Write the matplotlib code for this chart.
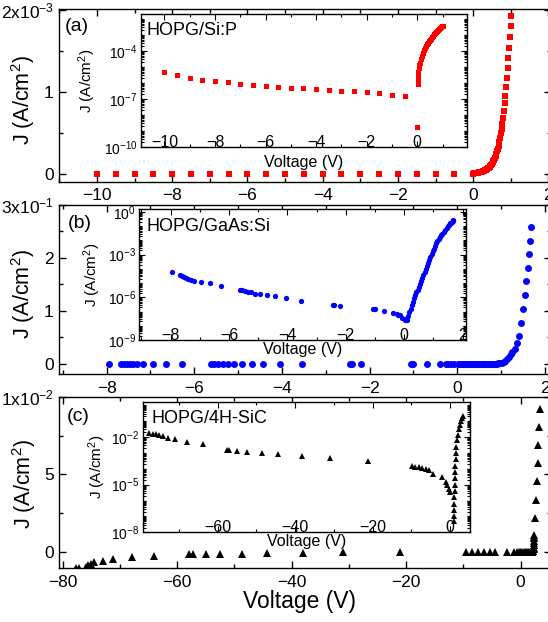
import numpy as np
import matplotlib
matplotlib.use("Agg")
import matplotlib.pyplot as plt
from matplotlib.ticker import (FixedLocator, FixedFormatter, MultipleLocator,
                               LogLocator, NullFormatter, FuncFormatter)

plt.rcParams["font.family"] = ["Liberation Sans", "DejaVu Sans"]
plt.rcParams["mathtext.default"] = "regular"

# ---------------- (a) HOPG/Si:P ----------------
va_rev = [-10.0, -9.5, -9.0, -8.5, -8.0, -7.5, -7.0, -6.5, -6.0, -5.5,
          -5.0, -4.5, -4.0, -3.5, -3.0, -2.5, -2.0, -1.5, -1.0, -0.5]
ja_rev = [4.9e-6, 3.2e-6, 2.0e-6, 1.55e-6, 1.28e-6, 1.05e-6, 8.9e-7, 7.4e-7,
          6.5e-7, 5.6e-7, 4.9e-7, 4.5e-7, 3.9e-7, 3.5e-7, 3.2e-7, 2.9e-7,
          2.5e-7, 2.2e-7, 1.8e-7, 1.4e-7]
va_fwd = [0.00, 0.02, 0.04, 0.06, 0.08, 0.10, 0.12, 0.14, 0.16, 0.18,
          0.20, 0.22, 0.24, 0.26, 0.28, 0.30, 0.32, 0.34, 0.36, 0.38,
          0.40, 0.42, 0.44, 0.46, 0.48, 0.50, 0.52, 0.54, 0.56, 0.58,
          0.60, 0.62, 0.64, 0.66, 0.68, 0.70, 0.72, 0.74, 0.76, 0.78,
          0.80, 0.82, 0.84, 0.86, 0.88, 0.90, 0.92, 0.94, 0.96, 0.98,
          1.00, 1.02]
ja_fwd = np.array([0.0003, 0.0015, 0.003, 0.0045, 0.006, 0.0075, 0.009, 0.011,
                   0.013, 0.015, 0.018, 0.021, 0.024, 0.027, 0.031, 0.035,
                   0.040, 0.045, 0.051, 0.058, 0.065, 0.073, 0.083, 0.094,
                   0.105, 0.12, 0.135, 0.15, 0.17, 0.19, 0.21, 0.24, 0.27,
                   0.30, 0.34, 0.38, 0.43, 0.49, 0.55, 0.61, 0.68, 0.77,
                   0.86, 0.955, 1.06, 1.17, 1.29, 1.41, 1.54, 1.67, 1.80,
                   1.93]) * 1e-3
# inset forward branch (log plot)
vai_fwd = [0.00, 0.01, 0.02, 0.03, 0.04, 0.06, 0.08, 0.10, 0.14, 0.18, 0.22,
           0.26, 0.30, 0.34, 0.38, 0.42, 0.46, 0.50, 0.54, 0.58, 0.62, 0.66,
           0.70, 0.74, 0.78, 0.82, 0.86, 0.90, 0.94, 0.98, 1.00]
jai_fwd = [1.6e-9, 7.9e-7, 1.26e-6, 2.5e-6, 4.5e-6, 7.9e-6, 1.26e-5, 1.8e-5,
           3.2e-5, 5.0e-5, 7.6e-5, 1.05e-4, 1.4e-4, 1.9e-4, 2.5e-4, 3.2e-4,
           4.0e-4, 4.8e-4, 5.6e-4, 7.1e-4, 8.7e-4, 1.05e-3, 1.26e-3, 1.48e-3,
           1.74e-3, 2.0e-3, 2.3e-3, 2.7e-3, 3.0e-3, 3.4e-3, 3.5e-3]

# ---------------- (b) HOPG/GaAs:Si ----------------
vb_rev = [-7.95, -7.68, -7.61, -7.54, -7.47, -7.39, -7.30, -7.18, -6.94,
          -6.65, -6.27, -5.62, -5.54, -5.45, -5.34, -5.24, -5.10, -4.92,
          -4.69, -4.43, -4.05, -3.54, -2.45, -2.40, -2.19, -1.05, -1.00,
          -0.68, -0.39, -0.26, -0.20, -0.14, -0.08]
jb_rev = [6.3e-5, 3.6e-5, 3.1e-5, 2.6e-5, 2.2e-5, 1.9e-5, 1.7e-5, 1.45e-5,
          1.23e-5, 9.5e-6, 6.2e-6, 3.2e-6, 3.1e-6, 2.75e-6, 2.45e-6, 2.2e-6,
          1.85e-6, 1.7e-6, 1.4e-6, 1.2e-6, 8.3e-7, 5.4e-7, 2.8e-7, 2.75e-7,
          2.5e-7, 1.5e-7, 1.4e-7, 1.07e-7, 8.1e-8, 6.3e-8, 5.6e-8, 5.4e-8,
          3.5e-8]
vb_fwd = [0.02, 0.06, 0.10, 0.14, 0.18, 0.22, 0.26, 0.30, 0.34, 0.38, 0.42,
          0.46, 0.50, 0.54, 0.58, 0.62, 0.66, 0.70, 0.74, 0.78, 0.82, 0.86,
          0.90, 0.94, 0.98, 1.02, 1.06, 1.10, 1.14, 1.18, 1.22, 1.26, 1.31,
          1.36, 1.41, 1.46, 1.51, 1.55, 1.58, 1.62, 1.64, 1.67, 1.69]
jb_fwd = [2.5e-8, 2.8e-8, 2.6e-8, 5e-8, 1.0e-7, 1.6e-7, 2.8e-7, 4.8e-7,
          8.3e-7, 1.4e-6, 2.3e-6, 3.2e-6, 5.5e-6, 9e-6, 1.4e-5, 2.3e-5,
          3.8e-5, 6e-5, 1e-4, 1.6e-4, 2.6e-4, 4.2e-4, 6.8e-4, 1.1e-3, 1.7e-3,
          2.7e-3, 4.3e-3, 6.5e-3, 9.5e-3, 0.0135, 0.018, 0.023, 0.028, 0.040,
          0.052, 0.078, 0.103, 0.130, 0.156, 0.182, 0.207, 0.233, 0.258]

# ---------------- (c) HOPG/4H-SiC ----------------
vc = [-77.6, -77.1, -76.0, -75.6, -75.1, -74.5, -73.0, -71.3, -67.9, -64.1,
      -58.0, -57.3, -55.0, -52.5, -48.7, -44.4, -38.1, -31.0, -21.1,
      -9.6, -8.5, -7.5, -6.4, -5.4, -4.4, -2.3, -1.2, -0.7, -0.3, -0.05,
      0.1, 0.3, 0.5, 0.7, 0.9, 1.1, 1.3, 1.5, 1.7, 1.9, 2.05, 2.15, 2.2,
      2.25, 2.28, 2.3, 2.32, 2.34, 2.36, 2.38, 2.4, 2.5, 2.73, 2.85, 2.97,
      3.07, 3.2, 3.32]
jc = np.array([-1.0, -1.0, -0.93, -0.82, -0.76, -0.65, -0.54, -0.43, -0.32,
               -0.24, -0.13, -0.13, -0.11, -0.09, -0.08, -0.06, -0.02, -0.01,
               0.0, 0, 0, 0, 0, 0, 0, 0, 0, 0, 0, 0,
               0, 0, 0, 0, 0, 0, 0, 0, 0.01, 0.02, 0.03, 0.06, 0.1, 0.18,
               0.3, 0.45, 0.6, 0.75, 0.9, 1.0, 1.12, 2.2, 3.38, 4.57, 5.71,
               6.88, 8.06, 9.2]) * 1e-3
vci = [-77.6, -76.7, -75.8, -75.0, -74.1, -72.9, -70.9, -67.8, -63.8, -57.6,
       -57.1, -54.9, -52.3, -48.6, -44.4, -38.1, -31.0, -21.1, -9.9, -9.0,
       -8.1, -7.2, -6.3, -5.4, -4.4, -2.2, -1.2, -0.75, -0.3, -0.05,
       0.9, 0.95, 1.0, 1.05, 1.1, 1.15, 1.2, 1.25, 1.3, 1.35, 1.4, 1.45,
       1.55, 1.7, 1.9, 2.2, 2.5, 2.8, 3.1, 3.3]
jci = [1.7e-2, 1.6e-2, 1.5e-2, 1.3e-2, 1.1e-2, 8.7e-3, 7.1e-3, 5.1e-3, 3.5e-3,
       1.5e-3, 1.5e-3, 1.4e-3, 1.2e-3, 1.0e-3, 8.1e-4, 6.5e-4, 5.0e-4, 3.1e-4,
       1.5e-4, 1.35e-4, 1.23e-4, 1.12e-4, 9.8e-5, 7.9e-5, 4.5e-5, 3.2e-5,
       1.4e-5, 9.5e-6, 5.4e-6, 3.6e-6,
       5e-8, 1e-7, 2.5e-7, 6.3e-7, 1.6e-6, 4e-6, 1e-5, 2.5e-5, 6.3e-5, 1.6e-4,
       4e-4, 1e-3, 2.5e-3, 6.3e-3, 1.4e-2, 3.2e-2, 5.6e-2, 0.1, 0.16, 0.2]

W, H = 548, 622
fig = plt.figure(figsize=(W / 100, H / 100), dpi=100)


def box(l, t, r, b):
    return [l / W, 1 - b / H, (r - l) / W, (b - t) / H]


def main_axes(rect, xlim, ylim, xmaj, xmin, yt, ylab, ymin, tag, tagpos, ylpos):
    ax = fig.add_axes(box(*rect))
    ax.set_xlim(*xlim)
    ax.set_ylim(*ylim)
    ax.xaxis.set_major_locator(MultipleLocator(xmaj))
    ax.xaxis.set_minor_locator(MultipleLocator(xmin))
    ax.yaxis.set_major_locator(FixedLocator(yt))
    ax.yaxis.set_major_formatter(FixedFormatter(ylab))
    ax.yaxis.set_minor_locator(FixedLocator(ymin))
    ax.tick_params(which="both", direction="in", top=True, right=True,
                   width=1, labelsize=12.5, pad=4.5)
    ax.tick_params(axis="y", pad=4)
    ax.tick_params(which="major", length=5)
    ax.tick_params(which="minor", length=3)
    for s in ax.spines.values():
        s.set_linewidth(1.0)
    ax.set_ylabel("J (A/cm$^2$)", fontsize=15.5)
    ax.yaxis.set_label_coords(ylpos[0], ylpos[1])
    ax.text(tagpos[0], tagpos[1], tag, transform=ax.transAxes, fontsize=14,
            ha="left", va="center")
    return ax


def inset_axes(rect, xlim, ylim, xmaj, xmin, yt, name, npos, xlpos, ylx):
    ax = fig.add_axes(box(*rect))
    ax.set_yscale("log")
    ax.set_xlim(*xlim)
    ax.set_ylim(*ylim)
    ax.xaxis.set_major_locator(MultipleLocator(xmaj))
    ax.xaxis.set_minor_locator(MultipleLocator(xmin))
    ax.yaxis.set_major_locator(FixedLocator(yt))
    ax.yaxis.set_major_formatter(
        FuncFormatter(lambda v, p: r"$10^{%d}$" % round(np.log10(v))))
    ax.yaxis.set_minor_locator(LogLocator(base=10, subs=np.arange(1, 10),
                                          numticks=200))
    ax.yaxis.set_minor_formatter(NullFormatter())
    ax.tick_params(which="both", direction="in", top=True, right=True, width=0.8)
    ax.tick_params(which="major", length=4)
    ax.tick_params(which="minor", length=2)
    ax.tick_params(axis="x", pad=-8.5, labelsize=11.5)
    ax.tick_params(axis="y", pad=2.5, labelsize=10)
    for s in ax.spines.values():
        s.set_linewidth(1.0)
    ax.set_xlabel("Voltage (V)", fontsize=11.5)
    ax.xaxis.set_label_coords(0.5, xlpos)
    ax.set_ylabel("J (A/cm$^2$)", fontsize=11)
    ax.yaxis.set_label_coords(ylx, 0.5)
    ax.text(npos[0], npos[1], name, transform=ax.transAxes, fontsize=13,
            ha="left", va="center")
    return ax


# panel (a)
ax_a = main_axes((59.3, 9.3, 551, 181.7), (-11, 2.07), (-0.1e-3, 2.01e-3), 2, 1,
                 [0, 1e-3, 2e-3], ["0", "1", "2x10$^{-3}$"], [0.5e-3, 1.5e-3],
                 "(a)", (0.012, 0.899), (-0.045, 0.475))
ax_a.plot(va_rev, -np.array(ja_rev), "s", color="red", ms=4.0, mew=0)
ax_a.plot(va_fwd, ja_fwd, "s", color="red", ms=4.0, mew=0)

in_a = inset_axes((140.7, 14.3, 467.3, 146.7), (-10.94, 1.98),
                  (1e-10, 10 ** -1.72), 2, 1, [1e-10, 1e-7, 1e-4],
                  "HOPG/Si:P", (0.018, 0.88), -0.06, -0.13)
in_a.plot(va_rev, ja_rev, "s", color="red", ms=3.6, mew=0)
in_a.plot(vai_fwd, jai_fwd, "s", color="red", ms=3.6, mew=0)

# panel (b)
ax_b = main_axes((59.3, 205, 551, 374.3), (-9.08, 2.14), (-0.0195, 0.3), 2, 1,
                 [0, 0.1, 0.2, 0.3], ["0", "1", "2", "3x10$^{-1}$"],
                 [0.05, 0.15, 0.25], "(b)", (0.018, 0.892), (-0.046, 0.476))
ax_b.plot(vb_rev, -np.array(jb_rev), "o", color="blue", ms=5.0, mew=0)
ax_b.plot(vb_fwd, jb_fwd, "o", color="blue", ms=5.0, mew=0)

in_b = inset_axes((139.3, 209.3, 466.3, 340), (-9.07, 2.13),
                  (1e-9, 10 ** 0.19), 2, 1, [1e-9, 1e-6, 1e-3, 1e0],
                  "HOPG/GaAs:Si", (0.023, 0.867), -0.015, -0.11)
in_b.plot(vb_rev, jb_rev, "o", color="blue", ms=3.8, mew=0)
in_b.plot(vb_fwd, jb_fwd, "o", color="blue", ms=3.8, mew=0)

# panel (c)
ax_c = main_axes((59.3, 396.7, 551, 568.3), (-80.6, 5.3), (-1.03e-3, 1.0e-2),
                 20, 10, [0, 5e-3, 1e-2], ["0", "5", "1x10$^{-2}$"],
                 [2.5e-3, 7.5e-3], "(c)", (0.015, 0.883), (-0.043, 0.49))
ax_c.plot(vc, jc, "^", color="black", ms=5.5, mew=0)
ax_c.set_xlabel("Voltage (V)", fontsize=16.5)
ax_c.xaxis.set_label_coords(0.4875, -0.125)

in_c = inset_axes((142.7, 401.7, 470, 532.3), (-79.3, 5.1),
                  (1e-8, 10 ** 0.22), 20, 10, [1e-8, 1e-5, 1e-2],
                  "HOPG/4H-SiC", (0.0275, 0.873), -0.015, -0.105)
in_c.plot(vci, jci, "^", color="black", ms=4.5, mew=0)

fig.savefig("out.png", dpi=100)
